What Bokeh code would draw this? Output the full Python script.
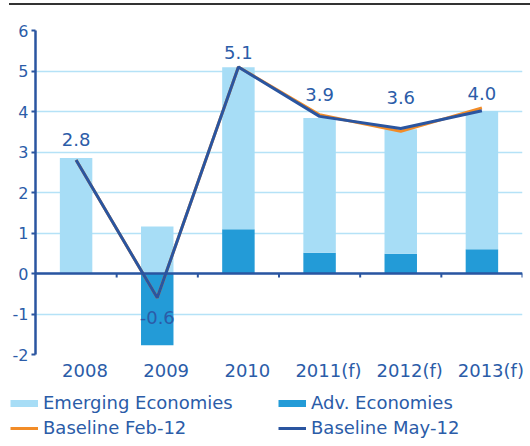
from bokeh.plotting import figure
from bokeh.layouts import column
from bokeh.models import (Range1d, FixedTicker, LinearAxis, Span, Legend, LegendItem,
                          ColumnDataSource)
from bokeh.core.properties import value
from bokeh.embed import file_html
from bokeh.resources import INLINE

# ---- data ----
years = ["2008", "2009", "2010", "2011(f)", "2012(f)", "2013(f)"]
emerging = [2.85, 1.16, 4.0, 3.33, 3.07, 3.41]
advanced = [0.0, -1.77, 1.09, 0.51, 0.49, 0.6]
baseline_feb12 = [2.8, -0.6, 5.1, 3.92, 3.51, 4.09]
baseline_may12 = [2.8, -0.6, 5.1, 3.88, 3.58, 4.02]
y_ticks = [-2, -1, 0, 1, 2, 3, 4, 5, 6]
value_labels = ["2.8", "-0.6", "5.1", "3.9", "3.6", "4.0"]

# ---- style ----
label_dy = [-21, 20, -14, -22, -31, -17]   # px offsets of value labels
xlabel_shift = 0.11                        # category labels sit slightly right of bars

FONT = "DejaVu Sans"
TXT = "#2b5ca8"
DARK = "#2a55a0"
ORANGE = "#f28c28"
LIGHT = "#a7ddf6"
MID = "#239bd7"
GRID = "#b5e2f7"

n = len(years)
xs = [i + 0.5 for i in range(n)]
em_bottom = [max(a, 0.0) for a in advanced]
em_top = [b + e for b, e in zip(em_bottom, emerging)]
bounds = [i + 1 for i in range(n)]
label_ticks = [x + xlabel_shift for x in xs]

p = figure(width=521, height=387, x_range=Range1d(0, n), y_range=Range1d(-2, 6),
           output_backend="svg", toolbar_location=None, x_axis_type=None,
           min_border_left=25, min_border_right=8, min_border_top=25, min_border_bottom=38)
p.outline_line_color = None
p.frame_align = False

# y axis
yax = p.yaxis[0]
yax.ticker = FixedTicker(ticks=y_ticks)
yax.major_label_overrides = {t: str(t) for t in y_ticks}
yax.axis_line_color = DARK
yax.axis_line_width = 2.5
yax.major_tick_line_color = DARK
yax.major_tick_line_width = 2
yax.major_tick_out = 4
yax.major_tick_in = 0
yax.minor_tick_line_color = None
yax.major_label_text_font = FONT
yax.major_label_text_font_size = "16px"
yax.major_label_text_color = TXT
yax.major_label_standoff = 3

p.xgrid.visible = False
p.ygrid.ticker = FixedTicker(ticks=y_ticks)
p.ygrid.grid_line_color = GRID
p.ygrid.grid_line_width = 1.5

# x axis (category labels)
xax = LinearAxis(ticker=FixedTicker(ticks=label_ticks),
                 major_label_overrides={x: y for x, y in zip(label_ticks, years)})
xax.axis_line_color = None
xax.major_tick_line_color = None
xax.minor_tick_line_color = None
xax.major_tick_out = 0
xax.major_tick_in = 0
xax.major_label_text_font = FONT
xax.major_label_text_font_size = "18px"
xax.major_label_text_color = TXT
xax.major_label_standoff = 5
p.add_layout(xax, "below")

p.vbar(x=xs, bottom=0, top=advanced, width=0.4, fill_color=MID, line_color=None)
p.vbar(x=xs, bottom=em_bottom, top=em_top, width=0.4, fill_color=LIGHT, line_color=None)

p.add_layout(Span(location=0, dimension="width", line_color=DARK, line_width=2.5))
p.segment(x0=bounds, y0=[0] * n, x1=bounds, y1=[-0.1] * n, line_color=DARK, line_width=2)

p.line(xs, baseline_feb12, line_color=ORANGE, line_width=3)
p.line(xs, baseline_may12, line_color=DARK, line_width=3)

src = ColumnDataSource(dict(x=xs, y=baseline_may12, t=value_labels, dy=label_dy))
p.text(x="x", y="y", text="t", y_offset="dy", source=src, text_font=value(FONT),
       text_font_size="18px", text_color=TXT, text_align="center", text_baseline="middle")

# ---- legend strip (swatch renderers lie outside the visible range) ----
q = figure(width=521, height=52, x_range=Range1d(0, 1), y_range=Range1d(0, 1),
           output_backend="svg", toolbar_location=None, x_axis_type=None, y_axis_type=None,
           min_border_left=0, min_border_right=0, min_border_top=0, min_border_bottom=0)
q.outline_line_color = None
q.grid.visible = False
q.frame_align = False
off = dict(x=[-5, -4], y=[-5, -5])
l_em = q.line(line_color=LIGHT, line_width=7, **off)
l_adv = q.line(line_color=MID, line_width=7, **off)
l_feb = q.line(line_color=ORANGE, line_width=3, **off)
l_may = q.line(line_color=DARK, line_width=3, **off)

legend = Legend(items=[
    LegendItem(label="Emerging Economies", renderers=[l_em]),
    LegendItem(label="Adv. Economies", renderers=[l_adv]),
    LegendItem(label="Baseline Feb-12", renderers=[l_feb]),
    LegendItem(label="Baseline May-12", renderers=[l_may]),
], location=(1, 6), orientation="horizontal", ncols=2)
legend.label_text_font = FONT
legend.label_text_font_size = "18px"
legend.label_text_color = TXT
legend.label_text_baseline = "middle"
legend.label_width = 231
legend.label_height = 20
legend.label_standoff = 5
legend.glyph_width = 28
legend.glyph_height = 20
legend.spacing = 4
legend.padding = 0
legend.margin = 0
legend.border_line_color = None
legend.background_fill_color = None
q.add_layout(legend)

page = column(p, q, spacing=0)
page.styles = {"margin-left": "9px", "margin-top": "3px", "border-top": "2px solid #333333"}

open("out.html", "w").write(file_html(page, INLINE))
